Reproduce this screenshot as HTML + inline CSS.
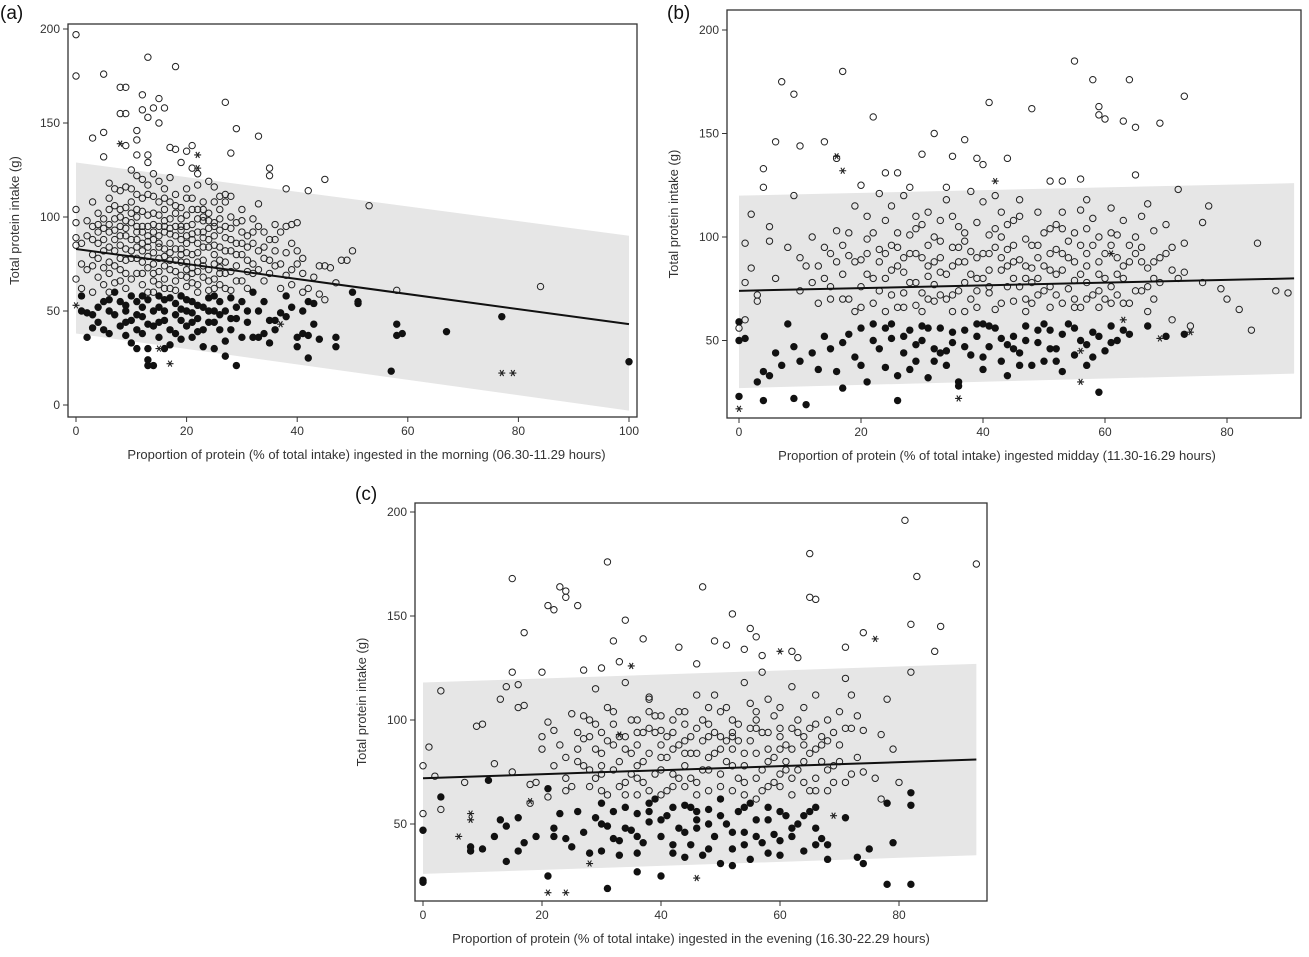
<!DOCTYPE html>
<html><head><meta charset="utf-8"><style>
html,body{margin:0;padding:0;background:#fff;}
svg{display:block;font-family:"Liberation Sans",Arial,sans-serif;}
</style></head><body>
<svg id="fig" width="1309" height="957" viewBox="0 0 1309 957" xmlns="http://www.w3.org/2000/svg"></svg>
<script>
// ---------- data (x = % protein, y = total protein g) ----------
const aOpen=[0,197,0,175,5,176,13,185,18,180,9,169,8,169,12,165,15,163,14,158,16,158,12,157,13,153,15,150,8,155,9,155,27,161,29,147,33,143,3,142,5,145,11,146,11,141,9,138,17,137,21,138,20,135,18,136,28,134,13,133,5,132,11,133,19,129,13,129,35,126,35,122,45,120,42,114,38,115,53,106,84,63,58,61,49,77,50,82,48,77,44,74,45,74,46,73,43,68,44,59,45,56,40,97,39,96,38,95,36,96,33,107,40,82,37,75,36,74,38,81,32,92,30,104,24,119,25,116,22,117,23,108,26,111,28,111,27,112,20,115,21,126,22,123,
3,95,4,102,5,88,6,110,6,76,7,93,7,99,8,85,8,72,9,105,9,90,10,78,10,97,11,112,11,84,12,70,12,92,13,101,13,79,14,88,14,66,15,108,15,95,16,74,16,83,17,99,17,62,18,90,18,77,19,105,19,69,20,86,20,95,21,73,21,110,22,81,22,64,23,98,23,89,24,72,24,102,25,85,25,67,26,93,26,77,27,108,27,62,28,88,28,71,29,97,30,80,30,66,31,90,32,75,31,62,3,80,4,68,5,73,6,96,7,65,8,114,9,62,10,88,11,70,12,103,13,60,14,96,15,71,16,104,17,81,18,112,19,58,20,68,21,96,22,99,23,77,24,61,25,97,26,64,27,82,28,100,29,74,4,86,5,99,6,60,7,82,8,95,9,77,10,108,11,95,12,82,13,87,14,111,15,64,16,92,17,72,18,61,19,83,20,76,21,88,22,71,23,68,24,84,25,75,26,104,27,70,28,61,29,86,30,92,31,71,33,82,34,66,35,77,36,88,37,62,39,64,41,70,33,95,34,78,3,108,2,90,1,86,1,75,0,104,0,97,0,89,0,85,0,67,1,62,2,72,3,60,11,122,12,120,13,117,14,123,15,119,16,115,17,121,10,125,9,116,7,115,6,118,8,104,12,76,13,73,14,81,15,86,16,67,17,91,18,83,19,93,20,81,21,65,22,92,23,84,24,94,25,90,18,102,19,76,20,101,12,86,14,75,16,98,10,67,11,100,9,83,8,78,7,74,5,82,4,92,6,104,19,88,21,80,23,104,25,80,27,95,29,66,31,84,32,99,34,92,35,70,38,69,41,60,42,62,40,75,39,72,47,65,15,78,17,86,13,95,11,78,
2,98,3,88,4,78,5,94,6,84,7,106,8,90,9,98,10,82,11,92,12,110,13,84,14,102,15,90,16,79,17,108,18,95,19,99,20,90,21,104,22,86,23,74,24,98,25,108,26,84,27,89,28,94,29,80,30,98,31,77,32,86,33,72,34,84,12,64,14,60,16,62,18,66,20,63,22,60,24,66,26,70,9,70,7,88,5,64,3,74,10,115,13,112,15,101,17,94,19,80,21,70,23,100,25,62,27,76,8,100,6,92,4,96,11,104,13,90,15,84,16,110,18,106,20,110,22,104,24,88,26,99,28,82,30,86,32,70,36,82,37,92,35,88,39,86,41,78,11,88,12,95,14,92,16,95,17,77,19,95,21,91,23,92,25,95,10,102,9,94,8,66,6,70,14,70,18,71,20,72,26,73,22,76];
const aFill=[1,58,1,50,2,49,2,36,3,48,3,41,4,52,4,44,5,40,5,55,6,38,6,50,7,48,8,42,8,55,9,37,9,50,10,33,10,45,11,30,11,55,12,38,12,47,13,30,13,21,13,24,14,21,14,42,15,52,15,36,16,45,16,56,17,40,17,32,18,48,18,54,19,35,19,58,20,42,20,50,21,36,21,55,22,46,22,39,23,52,23,31,24,44,24,57,25,30,25,50,26,40,26,55,27,34,27,26,28,46,28,57,29,21,29,52,30,36,31,50,32,36,32,60,33,36,34,38,35,33,35,45,36,45,37,49,38,58,38,47,39,52,40,31,40,36,41,38,41,50,42,37,42,25,42,55,43,43,43,54,47,31,47,36,50,60,51,54,51,55,57,18,58,43,58,37,59,38,67,39,77,47,100,23,44,35,30,55,25,58,19,45,16,30,12,58,7,60,10,58,
6,56,9,53,11,48,13,56,14,50,15,44,16,50,17,57,18,38,20,56,21,44,22,53,23,40,24,50,26,48,27,50,28,40,29,46,31,44,33,50,34,55,36,40,9,44,11,40,12,52,13,43,15,58,19,51,21,49,25,44];
const aStar=[0,53,8,139,22,126,22,133,15,30,17,22,77,17,79,17,37,43];
const aFit=[83,43], aBandHi=[129,90], aBandLo=[38,-3];

const bOpen=[7,175,9,169,17,180,4,124,2,111,4,133,6,146,10,144,14,146,16,138,20,125,22,158,24,131,26,131,30,140,32,150,35,139,37,147,39,138,40,135,41,165,44,138,48,162,51,127,55,185,58,176,59,163,59,159,60,157,63,156,64,176,65,153,69,155,73,168,72,123,73,97,76,107,79,75,80,70,82,65,84,55,85,97,76,78,90,73,88,74,66,110,67,116,70,106,65,130,53,127,56,128,71,95,73,83,74,57,71,60,68,70,62,72,77,115,3,69,1,60,0,56,1,78,1,97,2,85,3,72,5,98,5,105,6,80,8,95,9,120,
12,78,13,86,14,95,15,70,16,103,17,82,18,91,19,115,20,76,21,99,22,68,23,88,24,108,25,72,26,95,27,83,28,101,29,67,30,90,31,112,32,77,33,98,34,70,35,86,36,105,37,64,38,93,39,80,40,117,41,73,42,95,43,84,44,106,45,69,46,89,47,99,48,78,49,112,50,86,51,66,52,94,53,104,54,75,55,88,56,96,57,70,58,109,59,82,60,92,61,68,62,101,63,80,64,88,65,74,66,95,67,85,68,103,69,78,20,89,22,102,24,80,26,66,28,78,30,106,32,88,34,118,36,74,38,82,40,92,42,65,44,86,46,110,48,96,50,74,52,82,54,98,56,113,58,72,60,80,62,90,25,115,27,120,29,110,31,96,33,83,35,72,37,88,39,107,41,101,43,90,45,80,47,70,49,90,51,104,53,68,55,79,57,92,59,100,61,76,63,108,18,102,16,88,14,80,12,100,10,90,10,74,11,86,13,68,15,92,17,70,19,64,21,82,23,94,27,73,29,92,31,81,33,108,35,95,37,78,39,66,41,84,43,112,45,96,47,86,49,72,51,92,53,84,55,102,57,78,59,66,64,96,66,74,68,88,70,92,72,80,34,124,38,122,42,120,46,118,28,124,23,121,57,118,61,114,26,86,32,69,36,95,44,76,48,85,52,72,56,66,30,73,24,92,
15,76,17,96,19,88,21,110,23,74,25,96,27,90,29,104,31,86,33,72,35,110,37,98,39,90,41,76,43,100,45,108,47,80,49,96,51,84,53,112,55,70,57,104,59,88,61,96,63,86,65,100,67,76,69,90,71,84,18,70,20,66,22,80,24,64,26,102,28,92,30,64,32,100,34,82,36,88,38,70,40,80,42,104,44,94,46,76,48,68,50,102,52,106,54,90,56,82,58,96,60,70,62,82,64,68,66,88,68,80,21,92,25,84,29,78,33,90,37,102,41,92,45,88,49,80,53,92,57,86,61,102,65,92,27,66,31,70,35,64,39,74,43,68,47,64,51,76,55,66,59,74,63,68,67,64];
const bFill=[0,59,0,50,0,23,1,51,3,30,4,21,4,35,5,33,6,44,7,38,8,58,9,22,9,47,10,40,11,19,12,44,13,36,14,52,15,46,16,35,17,27,17,49,18,53,19,42,20,38,21,30,22,58,23,46,24,37,25,51,26,33,26,21,27,44,28,55,29,40,30,50,31,32,32,46,33,56,34,38,35,49,36,28,36,30,37,55,38,43,39,58,40,36,41,47,42,56,43,40,44,33,45,52,46,44,47,57,48,38,49,49,50,40,51,55,52,46,53,35,54,58,55,43,56,50,57,38,58,54,59,25,60,45,61,57,62,50,64,53,67,57,73,53,70,52,25,58,30,57,40,58,20,56,
22,50,24,56,27,52,29,48,31,56,33,44,35,54,37,47,39,52,41,57,43,51,45,46,47,50,49,55,51,46,53,53,55,56,57,48,59,52,61,49,63,55,28,36,34,45,40,42,46,38,52,40,58,42,32,40,44,48,50,58];
const bStar=[0,17,16,139,17,132,36,22,42,127,56,45,56,30,61,92,63,60,69,51,74,54];
const bFit=[74,80], bBandHi=[120,126], bBandLo=[27,34];

const cOpen=[0,55,0,78,1,87,2,73,3,57,3,114,7,70,9,97,10,98,12,79,13,110,14,116,15,123,15,75,16,117,16,106,17,142,15,168,17,107,18,69,20,92,20,123,21,155,22,153,23,164,24,159,24,162,26,155,27,124,29,115,30,125,31,176,32,138,33,128,34,148,37,139,38,111,43,135,46,127,47,164,49,138,51,136,52,151,54,134,55,144,56,140,57,131,57,123,62,133,63,130,65,180,65,159,66,158,71,135,74,142,79,86,80,70,81,196,82,146,82,123,83,169,86,133,87,145,93,175,77,93,78,110,77,62,76,72,74,95,73,102,72,112,71,120,
20,86,22,95,24,72,25,103,26,80,27,91,28,68,29,98,30,84,31,106,32,76,33,92,34,70,35,100,36,88,37,80,38,110,39,74,40,95,41,66,42,86,43,104,44,78,45,92,46,70,47,100,48,82,49,112,50,74,51,90,52,66,53,98,54,84,55,108,56,72,57,94,58,80,59,102,60,68,61,88,62,96,63,76,64,106,65,84,66,72,67,92,68,100,69,78,70,88,71,70,72,96,73,82,74,75,25,68,27,78,29,86,31,64,33,80,35,74,37,94,39,102,41,82,43,72,45,84,47,76,49,94,51,80,53,72,55,90,57,66,59,82,61,76,63,94,65,66,67,80,69,94,34,118,38,96,42,100,46,112,50,104,54,118,58,110,62,116,66,112,30,94,36,64,40,76,44,90,48,66,52,86,56,96,60,92,64,80,68,66,70,104,26,94,23,88,21,99,19,70,18,60,21,63,24,66,28,76,32,88,36,100,40,88,44,68,48,92,52,100,56,84,60,74,64,70,66,98,28,100,32,104,36,78,40,64,44,98,48,106,52,78,56,62,60,106,62,86,58,94,54,70,50,92,46,84,42,74,38,84,34,86,30,74,
26,86,28,92,30,78,32,98,34,92,36,72,38,104,40,82,42,94,44,84,46,96,48,76,50,86,52,94,54,78,56,100,58,86,60,96,62,72,64,92,66,86,68,76,70,80,72,74,27,102,31,90,35,84,39,94,43,88,47,90,51,106,55,96,59,70,63,100,67,88,71,96,29,72,33,68,37,70,41,92,45,72,49,84,53,90,57,76,61,80,65,96,69,70,24,82,22,78,36,94,40,102,44,104,48,98,52,92,56,104,60,86,64,88,68,90,30,66,34,64,38,66,42,68,46,64,50,68,54,64,58,68,62,64,66,66];
const cFill=[0,47,0,23,0,22,3,63,8,39,8,37,10,38,11,71,12,44,13,52,14,32,14,49,16,53,16,37,17,41,19,44,21,67,21,25,22,44,22,48,23,55,24,43,25,39,26,56,27,46,28,36,29,53,30,37,30,60,31,19,31,49,32,43,33,35,34,58,35,47,36,27,36,55,37,41,38,51,39,62,40,25,40,44,41,54,42,36,43,48,44,59,45,40,46,52,47,35,48,57,49,44,50,31,51,50,52,38,53,56,54,46,55,33,56,52,57,41,58,58,59,45,60,35,61,54,62,44,63,50,64,37,65,56,66,48,67,43,68,33,68,40,71,53,73,34,74,31,75,38,78,60,78,21,79,41,82,65,82,59,82,21,45,58,50,62,55,60,38,60,
30,50,32,56,34,48,36,44,38,56,40,52,42,58,44,46,46,56,48,50,50,54,52,46,54,58,56,44,58,52,60,56,62,48,64,54,66,58,42,40,48,38,54,40,60,42,36,36,66,40,33,42,44,34,52,30,58,36,46,48];
const cStar=[6,44,8,55,8,52,18,61,21,17,24,17,28,31,33,93,35,126,46,24,60,133,69,54,76,139];
const cFit=[72,81], cBandHi=[118,127], cBandLo=[26,35];

const aYTicks=[0,50,100,150,200];
const bYTicks=[50,100,150,200];
const cYTicks=[50,100,150,200];
const aXTicks=[0,20,40,60,80,100];
const bXTicks=[0,20,40,60,80];
const cXTicks=[0,20,40,60,80];

// ---------- drawing ----------
const NS='http://www.w3.org/2000/svg';
const svg=document.getElementById('fig');
function mk(tag,attrs,parent){const e=document.createElementNS(NS,tag);for(const k in attrs)e.setAttribute(k,attrs[k]);(parent||svg).appendChild(e);return e;}

function panel(p){
  const g=mk('g',{});
  
  
  const sx=v=>p.x0+(v-p.xmin)*(p.x1-p.x0)/(p.xmax-p.xmin);
  const sy=v=>p.y0+(v-0)*(p.y200-p.y0)/200;
  const band=mk('polygon',{points:`${sx(p.xmin)},${sy(p.hi[0])} ${sx(p.xend)},${sy(p.hi[1])} ${sx(p.xend)},${sy(p.lo[1])} ${sx(p.xmin)},${sy(p.lo[0])}`,fill:'#e6e6e6'},g);
  
  
  for(let i=0;i<p.open.length;i+=2){
    const c=mk('circle',{cx:sx(p.open[i]),cy:sy(p.open[i+1]),r:3.2,fill:'none',stroke:'#222','stroke-width':1},g);
    
    
  }
  for(let i=0;i<p.fill.length;i+=2){
    const c=mk('circle',{cx:sx(p.fill[i]),cy:sy(p.fill[i+1]),r:3.7,fill:'#111'},g);
    
    
  }
  for(let i=0;i<p.star.length;i+=2){
    const cx=sx(p.star[i]),cy=sy(p.star[i+1]);
    const s=mk('path',{d:`M${cx-3.5},${cy}h7M${cx-1.8},${cy-3}l3.6,6M${cx+1.8},${cy-3}l-3.6,6`,stroke:'#222','stroke-width':1.1,fill:'none'},g);
    
    
  }
  const ln=mk('line',{x1:sx(p.xmin),y1:sy(p.fit[0]),x2:sx(p.xend),y2:sy(p.fit[1]),stroke:'#111','stroke-width':2},g);
  
  
  const fr=mk('rect',{x:p.fl,y:p.ft,width:p.fr-p.fl,height:p.fb-p.ft,fill:'none',stroke:'#333','stroke-width':1.3},g);
  
  
  p.yt.forEach(t=>{
    const y=sy(t);
    mk('line',{x1:p.fl-5,y1:y,x2:p.fl,y2:y,stroke:'#333'},g);
    const tx=mk('text',{x:p.fl-8,y:y+4,'text-anchor':'end','font-size':12,fill:'#333'},g);
    tx.textContent=t;
    
    
  });
  p.xt.forEach(t=>{
    const x=sx(t);
    mk('line',{x1:x,y1:p.fb,x2:x,y2:p.fb+5,stroke:'#333'},g);
    const tx=mk('text',{x:x,y:p.fb+18,'text-anchor':'middle','font-size':12,fill:'#333'},g);
    tx.textContent=t;
    
    
  });
  const xt=mk('text',{x:(p.fl+p.fr)/2+p.xtOff,y:p.fb+42,'text-anchor':'middle','font-size':13,fill:'#333'},g);
  xt.textContent=p.xtitle;
  
  
  const yx=p.fl-49, yy=(p.ft+p.fb)/2;
  const yt=mk('text',{x:yx,y:yy,'text-anchor':'middle','font-size':13,fill:'#333',transform:`rotate(-90 ${yx} ${yy})`},g);
  yt.textContent='Total protein intake (g)';
  
  
  const lb=mk('text',{x:p.lx,y:p.ly,'font-size':19,fill:'#111'},g);
  lb.textContent='('+p.id+')';
  
  
}

panel({id:'a',open:aOpen,fill:aFill,star:aStar,fit:aFit,hi:aBandHi,lo:aBandLo,xt:aXTicks,yt:aYTicks,
  xmin:0,xmax:100,xend:100,x0:76,x1:629,y0:405,y200:29,fl:68,fr:637,ft:24,fb:417,lx:0,ly:19,xtOff:14,
  xtitle:'Proportion of protein (% of total intake) ingested in the morning (06.30-11.29 hours)'});
panel({id:'b',open:bOpen,fill:bFill,star:bStar,fit:bFit,hi:bBandHi,lo:bBandLo,xt:bXTicks,yt:bYTicks,
  xmin:0,xmax:80,xend:91,x0:739,x1:1227,y0:444,y200:30,fl:727,fr:1301,ft:10,fb:418,lx:667,ly:19,xtOff:-17,
  xtitle:'Proportion of protein (% of total intake) ingested midday (11.30-16.29 hours)'});
panel({id:'c',open:cOpen,fill:cFill,star:cStar,fit:cFit,hi:cBandHi,lo:cBandLo,xt:cXTicks,yt:cYTicks,
  xmin:0,xmax:80,xend:93,x0:423,x1:899,y0:928,y200:512,fl:415,fr:987,ft:503,fb:901,lx:355,ly:500,xtOff:-10,
  xtitle:'Proportion of protein (% of total intake) ingested in the evening (16.30-22.29 hours)'});
</script>
</body></html>
